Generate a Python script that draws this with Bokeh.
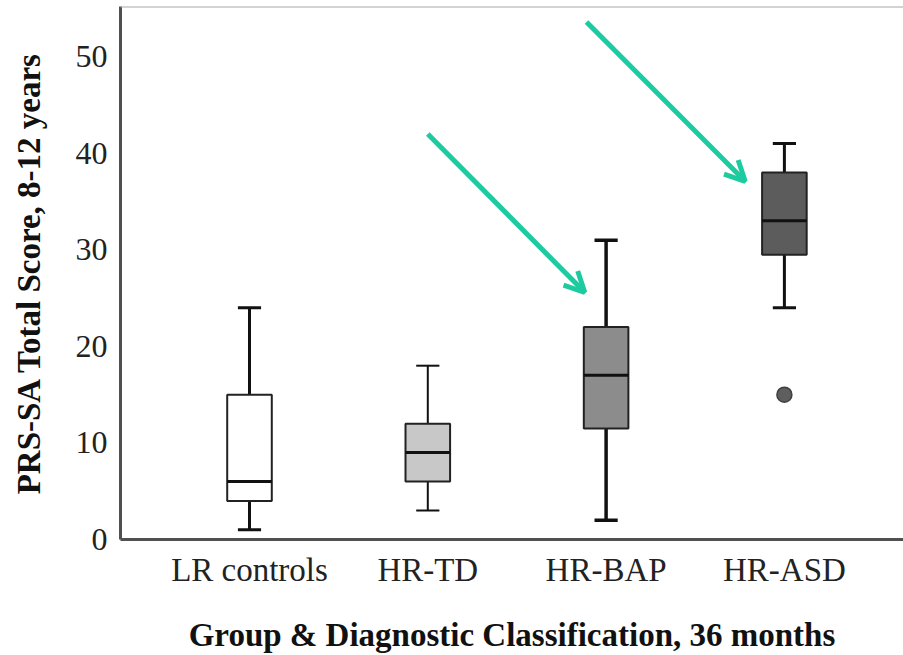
from bokeh.plotting import figure
from bokeh.models import ColumnDataSource, Arrow, OpenHead, Span, FixedTicker
from bokeh.embed import file_html
from bokeh.resources import INLINE

# ---- data ----
groups = ["LR controls", "HR-TD", "HR-BAP", "HR-ASD"]
lower_whisker = [1, 3, 2, 24]
q1 = [4, 6, 11.5, 29.5]
median = [6, 9, 17, 33]
q3 = [15, 12, 22, 38]
upper_whisker = [24, 18, 31, 41]
outlier_group = [4]
outlier_value = [15]
y_ticks = [0, 10, 20, 30, 40, 50]

# annotation arrows (data coordinates)
arrow_x_start = [2.00, 2.89]
arrow_y_start = [42.0, 53.6]
arrow_x_end = [2.88, 3.78]
arrow_y_end = [25.6, 37.1]

# ---- styles ----
box_colors = ["#ffffff", "#c8c8c8", "#8c8c8c", "#5c5c5c"]
whisker_widths = [3, 2, 3.5, 3]
box_w = 0.25
cap_half = 0.065

xs = list(range(1, len(groups) + 1))
src = ColumnDataSource(dict(
    x=xs, lo=lower_whisker, q1=q1, med=median, q3=q3, hi=upper_whisker,
    color=box_colors, ww=whisker_widths,
    x0=[x - box_w / 2 for x in xs], x1=[x + box_w / 2 for x in xs],
    c0=[x - cap_half for x in xs], c1=[x + cap_half for x in xs],
))

p = figure(width=903, height=655, output_backend="svg", toolbar_location=None,
           x_range=(0.2765, 4.668), y_range=(0, 55.2),
           min_border_left=120, min_border_right=0, min_border_top=6,
           min_border_bottom=116)
p.grid.visible = False
p.outline_line_color = None
p.background_fill_color = "white"
p.border_fill_color = "white"

# top border line
p.add_layout(Span(location=55.2, dimension="width", line_color="#a8a8a8", line_width=2))

# whiskers
p.segment("x", "q3", "x", "hi", source=src, line_color="#111111", line_width="ww")
p.segment("x", "lo", "x", "q1", source=src, line_color="#111111", line_width="ww")
p.segment("c0", "hi", "c1", "hi", source=src, line_color="#111111", line_width="ww")
p.segment("c0", "lo", "c1", "lo", source=src, line_color="#111111", line_width="ww")

# boxes
p.vbar(x="x", width=box_w, bottom="q1", top="q3", source=src,
       fill_color="color", line_color="#222222", line_width=2)
# medians
p.segment("x0", "med", "x1", "med", source=src, line_color="#111111", line_width=3)

# outliers
p.scatter(outlier_group, outlier_value, size=15, fill_color="#5e5e5e",
          line_color="#404040", line_width=1.5)

# arrows
teal = "#1ecba0"
for xs0, ys0, xe, ye in zip(arrow_x_start, arrow_y_start, arrow_x_end, arrow_y_end):
    p.add_layout(Arrow(x_start=xs0, y_start=ys0, x_end=xe, y_end=ye,
                       line_color=teal, line_width=5,
                       end=OpenHead(line_color=teal, line_width=5, size=20)))

# axes
p.xaxis.ticker = FixedTicker(ticks=xs)
p.xaxis.major_label_overrides = {x: g for x, g in zip(xs, groups)}
p.yaxis.ticker = FixedTicker(ticks=y_ticks)

for ax in (p.xaxis[0], p.yaxis[0]):
    ax.major_tick_line_color = None
    ax.minor_tick_line_color = None
    ax.axis_line_color = "#505050"
    ax.axis_line_width = 3
    ax.major_label_text_font = "Liberation Serif"
    ax.major_label_text_color = "#222222"
    ax.axis_label_text_font = "Liberation Serif"
    ax.axis_label_text_font_style = "bold"
    ax.axis_label_text_font_size = "33px"
    ax.axis_label_text_color = "#111111"

p.xaxis.major_label_text_font_size = "33px"
p.yaxis.major_label_text_font_size = "32px"
p.xaxis.axis_label = "Group & Diagnostic Classification, 36 months"
p.yaxis.axis_label = "PRS-SA Total Score, 8-12 years"
p.xaxis.major_label_standoff = 6
p.xaxis.axis_label_standoff = 26
p.yaxis.major_label_standoff = 7
p.yaxis.axis_label_standoff = 26

open("out.html", "w").write(file_html(p, INLINE))
